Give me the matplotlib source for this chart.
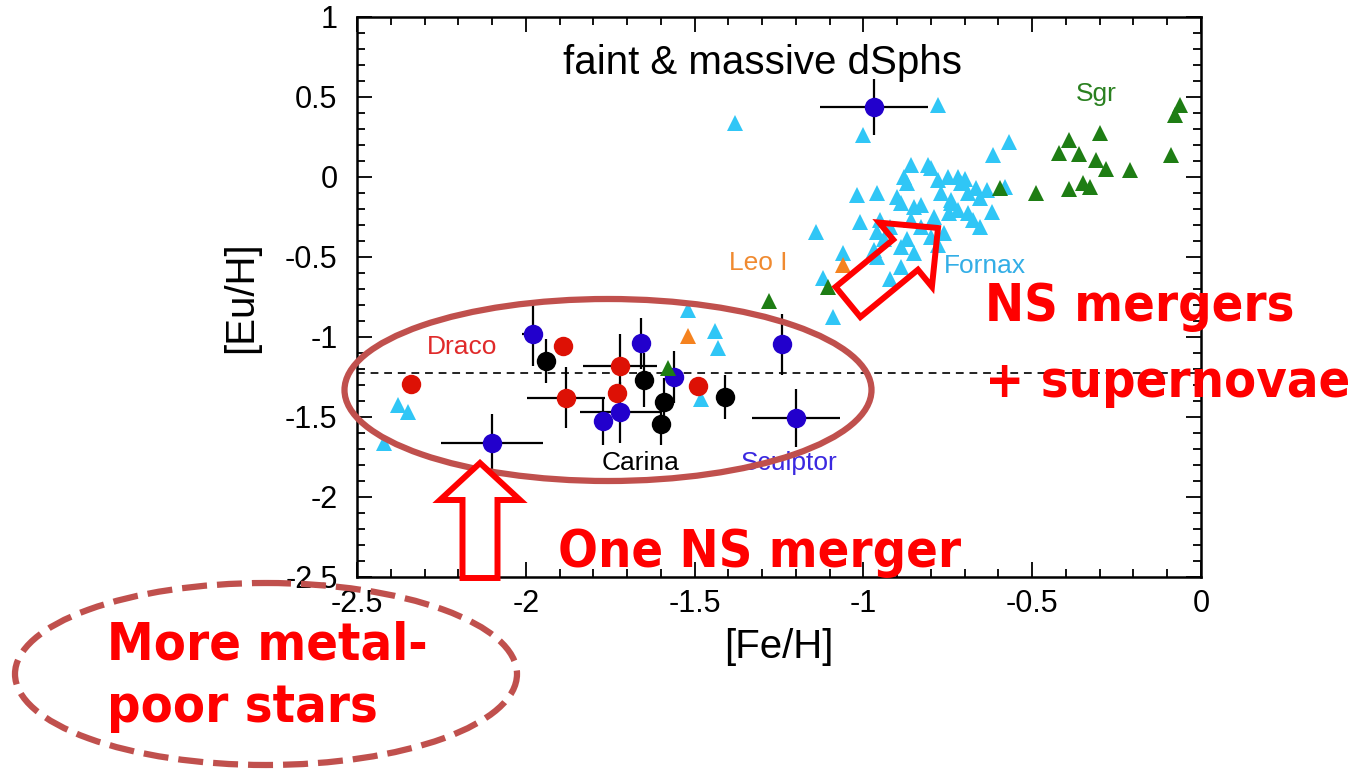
import matplotlib
matplotlib.use("Agg")
import matplotlib.pyplot as plt
from matplotlib import font_manager
from matplotlib.patches import Ellipse, FancyArrow
from matplotlib.ticker import MultipleLocator
import numpy as np

# Sculptor (blue circles with error bars)
scl_fe = [-0.97, -1.98, -2.10, -1.66, -1.77, -1.72, -1.56, -1.24, -1.20]
scl_eu = [0.44, -0.98, -1.66, -1.04, -1.525, -1.47, -1.25, -1.045, -1.505]
scl_xerr = [0.16, 0.03, 0.15, 0.0, 0.0, 0.12, 0.0, 0.0, 0.13]
scl_yerr = [0.175, 0.2, 0.18, 0.16, 0.15, 0.19, 0.16, 0.19, 0.18]

# Draco (red circles)
dra_fe = [-2.34, -1.89, -1.88, -1.72, -1.73, -1.49]
dra_eu = [-1.295, -1.055, -1.38, -1.18, -1.35, -1.305]
dra_xerr = [0.0, 0.0, 0.115, 0.11, 0.0, 0.0]
dra_yerr = [0.0, 0.0, 0.19, 0.2, 0.0, 0.0]

# Carina (black circles)
car_fe = [-1.94, -1.65, -1.59, -1.60, -1.41]
car_eu = [-1.15, -1.27, -1.405, -1.545, -1.375]
car_yerr = [0.14, 0.17, 0.15, 0.13, 0.135]

# Leo I (orange triangles)
leo_fe = [-1.52, -1.06]
leo_eu = [-0.995, -0.55]

# Sgr (green triangles)
sgr_fe = [-1.58, -1.28, -1.105, -0.595, -0.49, -0.062, -0.077, -0.39, -0.30,
          -0.42, -0.36, -0.31, -0.28, -0.21, -0.09, -0.39, -0.35, -0.33]
sgr_eu = [-1.195, -0.775, -0.69, -0.07, -0.10, 0.45, 0.39, 0.23, 0.275,
          0.15, 0.145, 0.105, 0.05, 0.045, 0.14, -0.075, -0.04, -0.06]

# Fornax (cyan triangles)
fnx_fe = [-1.38, -0.78, -1.00, -2.38, -2.35, -2.42, -1.52, -1.44, -1.43, -1.48,
          -1.09, -1.12, -1.06, -1.14, -1.02, -0.96, -1.01, -0.95, -0.96, -0.97,
          -0.92, -0.90, -0.88, -0.86, -0.81, -0.87, -0.89, -0.85, -0.83, -0.86,
          -0.89, -0.87, -0.85, -0.89, -0.92, -0.96, -0.94, -0.79, -0.76, -0.78,
          -0.75, -0.72, -0.70, -0.77, -0.74, -0.72, -0.745, -0.69, -0.675, -0.665,
          -0.655, -0.62, -0.615, -0.83, -0.80, -0.57, -0.58, -0.635, -0.655, -0.78,
          -0.71, -0.80, -0.74, -0.69]
fnx_eu = [0.34, 0.45, 0.26, -1.425, -1.47, -1.66, -0.83, -0.96, -1.07, -1.39,
          -0.875, -0.63, -0.475, -0.345, -0.11, -0.10, -0.28, -0.27, -0.345, -0.455,
          -0.31, -0.125, 0.0, 0.075, 0.075, -0.04, -0.16, -0.19, -0.175, -0.27,
          -0.44, -0.39, -0.475, -0.56, -0.64, -0.50, -0.39, -0.25, -0.35, -0.02,
          0.0, 0.0, -0.01, -0.10, -0.145, -0.205, -0.225, -0.225, -0.27, -0.07,
          -0.13, -0.22, 0.14, -0.31, -0.375, 0.22, -0.06, -0.08, -0.31, -0.425,
          -0.04, 0.055, -0.16, -0.10]

solar_line = -1.225

# slide annotations: text, left x / baseline y in pixels, target width in pixels
notes = ['NS mergers', '+ supernovae', 'One NS merger', 'More metal-', 'poor stars']
note_x = [985, 985, 558, 107, 107]
note_y = [321, 397, 567, 660, 722]
note_w = [315, 365, 417, 308, 243]


def narrow_font():
    # look for a condensed / narrow face among the installed fonts
    best = None
    for f in font_manager.fontManager.ttflist:
        key = (f.name + ' ' + f.fname).lower()
        narrow = ('narrow' in key or 'condensed' in key or 'cond' in key
                  or f.stretch in ('condensed', 'semi-condensed', 'narrow'))
        if not narrow:
            continue
        if 'extra' in key or 'italic' in key or 'oblique' in key:
            continue
        score = 0
        if 'bold' in key or f.weight in (700, 'bold'):
            score += 2
        if 'liberation' in key or 'arial' in key:
            score += 1
        if best is None or score > best[0]:
            best = (score, f.fname)
    if best is None:
        return font_manager.FontProperties(family=['Liberation Sans', 'DejaVu Sans'],
                                           weight='bold')
    return font_manager.FontProperties(fname=best[1])


W, H = 1357, 771
fig = plt.figure(figsize=(W / 100, H / 100), dpi=100)
plt.rcParams['font.family'] = ['Liberation Sans', 'DejaVu Sans']

ax = fig.add_axes([357 / W, 1 - 577 / H, (1201 - 357) / W, (577 - 17) / H])

tri = dict(marker='^', ls='none', ms=12, mew=0)
ax.plot(fnx_fe, fnx_eu, color='#30c6f6', zorder=2, **tri)
ax.plot(leo_fe, leo_eu, color='#f5821f', zorder=2, **tri)

eb = dict(fmt='o', ms=14, mew=0, ecolor='black', elinewidth=1.6, capsize=4.5,
          capthick=1.6, zorder=3)
ax.errorbar(car_fe, car_eu, yerr=car_yerr, color='black', **eb)
ax.errorbar(dra_fe, dra_eu, xerr=dra_xerr, yerr=dra_yerr, color='#dd1105', **eb)
ax.errorbar(scl_fe, scl_eu, xerr=scl_xerr, yerr=scl_yerr, color='#2200cc', **eb)
ax.plot(sgr_fe, sgr_eu, color='#1e7d14', zorder=4, **tri)

ax.axhline(solar_line, color='#222222', ls=(0, (4, 3)), lw=1.4, zorder=1)

ax.set_xlim(-2.5, 0)
ax.set_ylim(-2.5, 1.0)
ax.xaxis.set_major_locator(MultipleLocator(0.5))
ax.xaxis.set_minor_locator(MultipleLocator(0.1))
ax.yaxis.set_major_locator(MultipleLocator(0.5))
ax.yaxis.set_minor_locator(MultipleLocator(0.1))
ax.tick_params(which='both', direction='in', top=True, right=True, width=1.3,
               labelsize=22)
ax.tick_params(which='major', length=11)
ax.tick_params(which='minor', length=6)
ax.tick_params(axis='x', pad=9)
ax.tick_params(axis='y', pad=14)
ax.xaxis.set_major_formatter(plt.FuncFormatter(lambda v, p: '%g' % v))
ax.yaxis.set_major_formatter(plt.FuncFormatter(lambda v, p: '%g' % v))
for s in ax.spines.values():
    s.set_linewidth(1.8)
ax.set_xlabel('[Fe/H]', fontsize=29, labelpad=6)
ax.set_ylabel('[Eu/H]', fontsize=29, labelpad=18)

ax.text(-1.3, 0.71, 'faint & massive dSphs', fontsize=29, ha='center', va='center')
ax.text(-2.19, -1.06, 'Draco', color='#e02a2a', fontsize=19, ha='center', va='center')
ax.text(-1.66, -1.79, 'Carina', color='black', fontsize=19, ha='center', va='center')
ax.text(-1.22, -1.79, 'Sculptor', color='#3a28e0', fontsize=19, ha='center', va='center')
ax.text(-1.31, -0.54, 'Leo I', color='#f08a30', fontsize=19, ha='center', va='center')
ax.text(-0.64, -0.555, 'Fornax', color='#33aee6', fontsize=19, ha='center', va='center')
ax.text(-0.31, 0.52, 'Sgr', color='#2a8020', fontsize=19, ha='center', va='center')

# overlay in pixel coordinates for the slide annotations
ov = fig.add_axes([0, 0, 1, 1], zorder=5)
ov.set_xlim(0, W)
ov.set_ylim(H, 0)
ov.axis('off')

brown = '#c0504d'
ov.add_patch(Ellipse((608, 390), 527, 182, fill=False, ec=brown, lw=4.5))
ov.add_patch(Ellipse((266, 674), 502, 182, fill=False, ec=brown, lw=4.5,
                     ls=(0, (4, 1.6))))

red = '#ff0000'
ov.add_patch(FancyArrow(480, 578, 0, -115, width=35, head_width=80,
                        head_length=37, length_includes_head=True,
                        fc='white', ec=red, lw=4.3))
ov.add_patch(FancyArrow(848, 302, 90, -74, width=39, head_width=83,
                        head_length=42, length_includes_head=True,
                        fc='none', ec=red, lw=4.3))

fp = narrow_font()
texts = [ov.text(x, y, s, color=red, fontproperties=fp, fontsize=46,
                 va='baseline', ha='left')
         for s, x, y in zip(notes, note_x, note_y)]
fig.canvas.draw()
r = fig.canvas.get_renderer()
ratios = [w / t.get_window_extent(r).width for t, w in zip(texts, note_w)]
size = 46 * float(np.median(ratios))
for t in texts:
    t.set_fontsize(size)

fig.savefig('out.png', dpi=100)
